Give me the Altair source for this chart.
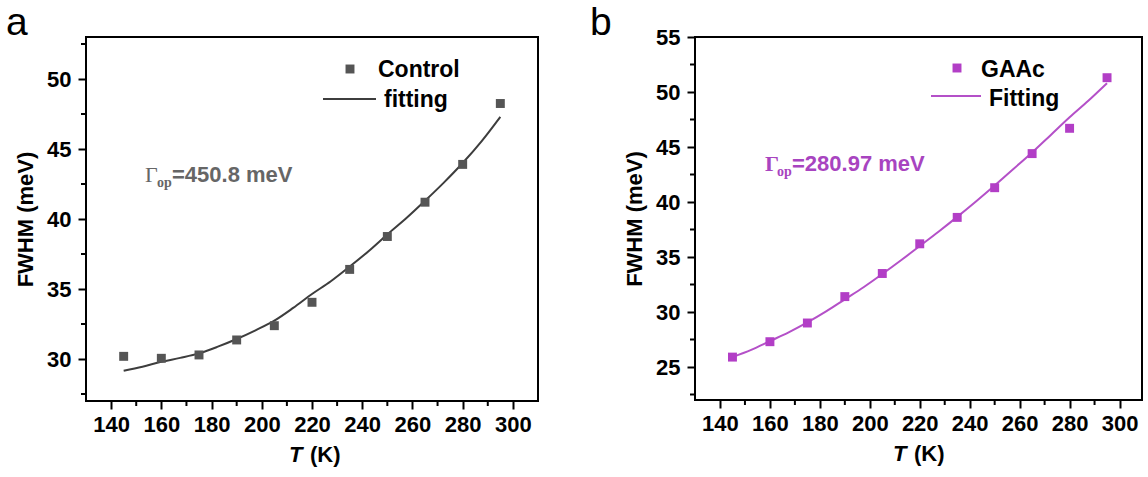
import altair as alt
import pandas as pd

# ---------------- data ----------------
T = [145, 160, 175, 190, 205, 220, 235, 250, 265, 280, 295]
control = [30.19, 30.05, 30.29, 31.36, 32.38, 34.05, 36.4, 38.75, 41.2, 43.9, 48.25]
gaac = [25.9, 27.3, 29.0, 31.4, 33.5, 36.2, 38.6, 41.3, 44.4, 46.7, 51.3]

T_fit = [145, 152.5, 160, 167.5, 175, 182.5, 190, 197.5, 205, 212.5, 220,
         227.5, 235, 242.5, 250, 257.5, 265, 272.5, 280, 287.5, 295]
control_fit = [29.16, 29.45, 29.8, 30.08, 30.4, 30.88, 31.43, 32.05, 32.74, 33.65, 34.64,
               35.55, 36.6, 37.7, 38.9, 40.05, 41.3, 42.6, 44.0, 45.55, 47.3]
gaac_fit = [25.9, 26.55, 27.35, 28.15, 29.05, 30.05, 31.15, 32.25, 33.45, 34.7, 36.0,
            37.3, 38.65, 40.05, 41.5, 43.0, 44.5, 46.1, 47.7, 49.2, 50.8]

x_major = [140, 160, 180, 200, 220, 240, 260, 280, 300]
x_minor = [150, 170, 190, 210, 230, 250, 270, 290]
a_y_major = [30, 35, 40, 45, 50]
a_y_minor = [27.5, 32.5, 37.5, 42.5, 47.5, 52.5]
b_y_major = [25, 30, 35, 40, 45, 50, 55]
b_y_minor = [22.5, 27.5, 32.5, 37.5, 42.5, 47.5, 52.5]

SANS = "Liberation Sans"
SERIF = "Liberation Serif"
FS = 22


def txt(s, x, y, size, color="black", weight="bold", font=SANS, style="normal", align="left"):
    return alt.Chart(pd.DataFrame({"t": [s]})).mark_text(
        font=font, fontSize=size, fontWeight=weight, fontStyle=style,
        color=color, align=align, baseline="alphabetic"
    ).encode(x=alt.value(x), y=alt.value(y), text="t:N")


def panel(letter, letter_x, pts, fit, ptcolor, linecolor, anncolor, xdomain, ydomain, ymajor, yminor,
          lab1, lab2, leg, ann, ann_pos, gamma_weight, xt_center, w, h):
    xs = alt.Scale(domain=xdomain, zero=False, nice=False)
    ys = alt.Scale(domain=ydomain, zero=False, nice=False)
    xaxis = alt.Axis(values=x_major, title=None, labelFont=SANS, labelFontSize=FS,
                     labelFontWeight="bold", labelColor="black", tickSize=8, tickWidth=2,
                     tickColor="black", domain=False, grid=False, labelPadding=5)
    yaxis = alt.Axis(values=ymajor, title="FWHM (meV)", titleFont=SANS, titleFontSize=FS,
                     titleFontWeight="bold", titleColor="black", titlePadding=9,
                     labelFont=SANS, labelFontSize=FS, labelFontWeight="bold",
                     labelColor="black", tickSize=8, tickWidth=2, tickColor="black",
                     domain=False, grid=False, labelPadding=7)
    X = alt.X("T:Q", scale=xs, axis=xaxis)
    Y = alt.Y("v:Q", scale=ys, axis=yaxis)

    dpts = pd.DataFrame({"T": T, "v": pts})
    dfit = pd.DataFrame({"T": T_fit, "v": fit})

    line = alt.Chart(dfit).mark_line(color=linecolor, strokeWidth=2, interpolate="monotone").encode(x=X, y=Y)
    points = alt.Chart(dpts).mark_point(shape="square", filled=True, size=80, color=ptcolor, opacity=1).encode(x=X, y=Y)
    xmin = alt.Chart(pd.DataFrame({"T": x_minor})).mark_rule(color="black", strokeWidth=2).encode(
        x=X, y=alt.value(h), y2=alt.value(h + 5))
    ymin = alt.Chart(pd.DataFrame({"v": yminor})).mark_rule(color="black", strokeWidth=2).encode(
        y=Y, x=alt.value(0), x2=alt.value(-5))

    # legend
    sq = alt.Chart(pd.DataFrame({"a": [0]})).mark_square(size=80, color=ptcolor, opacity=1).encode(
        x=alt.value(leg[0]), y=alt.value(leg[1]))
    lg_line = alt.Chart(pd.DataFrame({"a": [0]})).mark_rule(color=linecolor, strokeWidth=2).encode(
        x=alt.value(leg[2]), x2=alt.value(leg[3]), y=alt.value(leg[4]))
    t1 = txt(lab1, leg[5], leg[6], 23)
    t2 = txt(lab2, leg[7], leg[8], 23)

    # annotation
    g = txt("Γ", ann_pos[0], ann_pos[1], 22, color=anncolor, weight=gamma_weight, font=SERIF)
    op = txt("op", ann_pos[0] + 12, ann_pos[1] + 5, 14, color=anncolor, weight="bold", font=SERIF)
    val = txt(ann, ann_pos[0] + 27, ann_pos[1], FS, color=anncolor)

    # x title
    xt1 = txt("T", xt_center - 27, h + 61, FS, style="italic")
    xt2 = txt("(K)", xt_center - 6, h + 61, FS)

    let = txt(letter, letter_x, -2, 39, weight="normal")

    return alt.layer(line, points, xmin, ymin, sq, lg_line, t1, t2, g, op, val, xt1, xt2, let).properties(
        width=w, height=h)


pa = panel("a", -80, control, control_fit, "#555555", "#3d3d3d", "#666666", [130, 310], [27, 53],
           a_y_major, a_y_minor, "Control", "fitting",
           [264, 32, 237, 290, 62, 292, 40, 298, 70],
           "=450.8 meV", [59, 145], "normal", 230, 452, 364)
pb = panel("b", -105, gaac, gaac_fit, "#b23ec6", "#b450c8", "#a844c0", [130, 309], [22, 55],
           b_y_major, b_y_minor, "GAAc", "Fitting",
           [262, 31, 236, 286, 59, 286, 40, 294, 69],
           "=280.97 meV", [70, 134], "bold", 225, 447, 363)

chart = alt.hconcat(pa, pb, spacing=50).configure_view(
    stroke="black", strokeWidth=2
).properties(background="white", padding={"left": 5, "top": 3, "right": 0, "bottom": 0})

chart.save("out.html", embed_options={"renderer": "svg", "actions": False})
